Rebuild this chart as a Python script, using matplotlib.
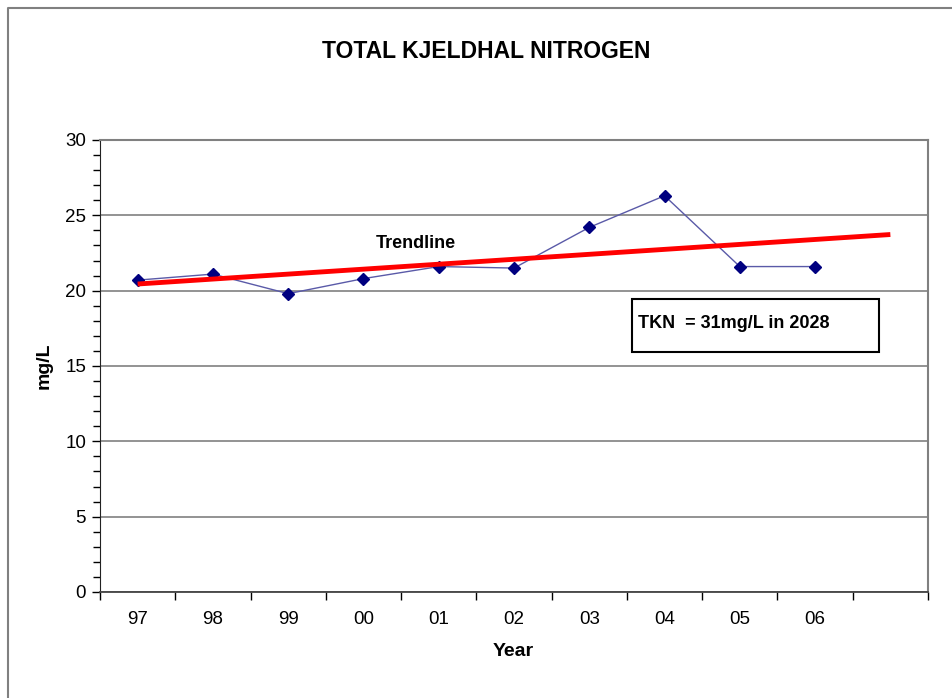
import numpy as np
import matplotlib.pyplot as plt
from matplotlib.lines import Line2D
from matplotlib.patches import Rectangle

plt.rcParams['font.family'] = ['Liberation Sans', 'DejaVu Sans']

# data
years = ['97', '98', '99', '00', '01', '02', '03', '04', '05', '06']
tkn = [20.7, 21.1, 19.8, 20.8, 21.6, 21.5, 24.2, 26.3, 21.6, 21.6]

x = np.arange(len(years))
# linear trend, carried one period forward
coef = np.polyfit(x, tkn, 1)
xt = np.arange(len(years) + 1)
trend = np.polyval(coef, xt)

fig = plt.figure(figsize=(9.52, 6.98), dpi=100)
ax = fig.add_axes([100/952, 1 - 592/698, 828/952, 452/698])

# outer chart frame (left + top visible)
fig.add_artist(Line2D([8/952, 8/952, 1.0], [0.0, 1 - 8/698, 1 - 8/698],
                      transform=fig.transFigure, color='#808080', lw=1.5))

ax.set_xlim(-0.5, len(years) + 0.5)
ax.set_ylim(0, 30)

ax.grid(axis='y', color='#808080', lw=1.2)
ax.set_axisbelow(True)

ax.plot(x, tkn, color='#5a5aa8', lw=1.0, marker='D', markersize=6,
        markerfacecolor='#000080', markeredgecolor='#000080', zorder=3)
ax.plot(xt, trend, color='#ff0000', lw=3.5, zorder=4, solid_capstyle='butt')

# ticks
ax.set_yticks(np.arange(0, 31, 5))
ax.set_yticks(np.arange(0, 31, 1), minor=True)
ax.set_xticks(np.arange(-0.5, len(years) + 1, 1))
ax.set_xticklabels([])
ax.set_xticks(x, minor=True)
ax.set_xticklabels(years, minor=True)
ax.tick_params(axis='y', which='major', direction='out', length=6, width=1,
               labelsize=13.5, pad=4)
ax.tick_params(axis='y', which='minor', direction='out', length=5, width=1)
ax.tick_params(axis='x', which='major', direction='out', length=6, width=1)
ax.tick_params(axis='x', which='minor', length=0, labelsize=13.5, pad=14)

for side in ['top', 'right']:
    ax.spines[side].set_color('#808080')
    ax.spines[side].set_linewidth(1.5)
ax.spines['left'].set_color('#222222')
ax.spines['bottom'].set_color('#444444')
ax.spines['bottom'].set_linewidth(1.3)

# labels
fig.text(0.5105, 1 - 52/698, 'TOTAL KJELDHAL NITROGEN', ha='center', va='center',
         fontsize=16.5, fontweight='bold')
fig.text(513/952, 1 - 651/698, 'Year', ha='center', va='center',
         fontsize=14, fontweight='bold')
fig.text(44/952, 1 - 366/698, 'mg/L', ha='center', va='center', rotation=90,
         fontsize=14, fontweight='bold')

ax.text(0.3816, 0.770, 'Trendline', transform=ax.transAxes, ha='center',
        va='center', fontsize=13, fontweight='bold')

ax.add_patch(Rectangle((0.6425, 0.531), 0.2983, 0.1173, transform=ax.transAxes,
                       facecolor='white', edgecolor='black', lw=1.5, zorder=5))
ax.text(0.6498, 0.593, 'TKN  = 31mg/L in 2028', transform=ax.transAxes,
        ha='left', va='center', fontsize=13, fontweight='bold', zorder=6)

fig.savefig('out.png', dpi=100)
